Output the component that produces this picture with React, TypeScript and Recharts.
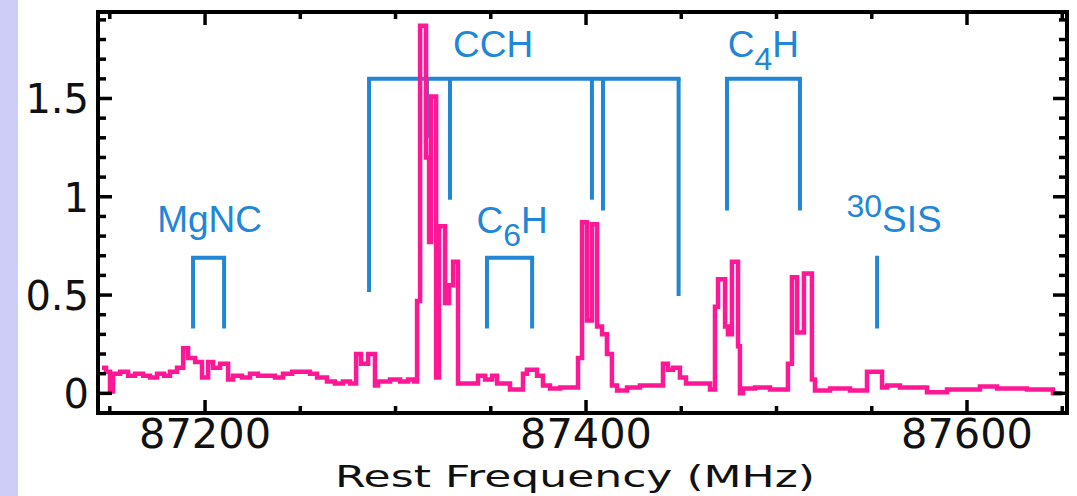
import React from 'react';
import { LineChart, Line, XAxis, YAxis, ReferenceLine, ReferenceDot } from 'recharts';

// spectrum: [rest frequency (MHz), intensity]
const spectrum: [number, number][] = [
  [87145.9, 0.13], [87148.0, 0.11], [87150.1, 0.01], [87151.7, 0.10], [87155.4, 0.11],
  [87159.6, 0.09], [87163.3, 0.10], [87167.5, 0.09], [87171.1, 0.08], [87174.8, 0.10],
  [87178.5, 0.09], [87181.6, 0.11], [87185.3, 0.13], [87188.5, 0.23], [87191.1, 0.18],
  [87194.8, 0.16], [87198.4, 0.08], [87201.6, 0.16], [87204.2, 0.13], [87207.9, 0.15],
  [87212.1, 0.07], [87214.7, 0.09], [87219.4, 0.08], [87223.6, 0.10], [87227.8, 0.09],
  [87232.0, 0.09], [87236.7, 0.08], [87240.9, 0.10], [87245.7, 0.11], [87249.9, 0.11],
  [87255.1, 0.10], [87258.8, 0.08], [87264.0, 0.06], [87268.2, 0.05], [87272.4, 0.06],
  [87276.1, 0.05], [87279.3, 0.20], [87281.9, 0.15], [87285.6, 0.20], [87289.2, 0.04],
  [87290.8, 0.06], [87297.1, 0.07], [87302.4, 0.06], [87306.6, 0.07], [87309.7, 0.06],
  [87311.3, 0.47], [87312.9, 1.87], [87316.0, 1.20], [87317.6, 0.77], [87318.6, 1.51],
  [87321.3, 0.08], [87322.8, 0.85], [87326.0, 0.46], [87328.1, 0.55], [87330.2, 0.67],
  [87332.8, 0.05], [87343.3, 0.09], [87347.0, 0.07], [87350.7, 0.09], [87353.3, 0.05],
  [87360.1, 0.02], [87366.9, 0.10], [87369.0, 0.12], [87374.3, 0.09], [87377.4, 0.04],
  [87381.1, 0.025], [87386.4, 0.03], [87395.8, 0.18], [87397.9, 0.87], [87400.5, 0.37],
  [87403.1, 0.86], [87405.8, 0.34], [87408.4, 0.30], [87411.0, 0.20], [87413.6, 0.04],
  [87416.3, 0.015], [87421.5, 0.03], [87428.3, 0.04], [87440.4, 0.15], [87443.0, 0.12],
  [87445.7, 0.13], [87449.3, 0.08], [87452.5, 0.05], [87459.8, 0.05], [87465.1, 0.02],
  [87467.7, 0.44], [87469.3, 0.58], [87473.0, 0.34], [87474.5, 0.30], [87476.6, 0.67],
  [87479.8, 0.24], [87480.8, 0.0], [87482.4, 0.025], [87488.7, 0.03], [87496.6, 0.02],
  [87506.0, 0.15], [87508.1, 0.59], [87510.8, 0.31], [87514.4, 0.61], [87518.6, 0.07],
  [87520.2, 0.015], [87528.1, 0.025], [87538.6, 0.015], [87547.5, 0.11], [87555.4, 0.03],
  [87558.0, 0.04], [87564.8, 0.03], [87579.0, 0.005], [87589.5, 0.02], [87606.8, 0.035],
  [87615.8, 0.025], [87631.5, 0.02], [87645.1, 0.0], [87649.9, 0.0],
];

const xTicks = [87150, 87200, 87250, 87300, 87350, 87400, 87450, 87500, 87550, 87600, 87650];
const yTicks = [0, 0.1, 0.2, 0.3, 0.4, 0.5, 0.6, 0.7, 0.8, 0.9, 1, 1.1, 1.2, 1.3, 1.4, 1.5, 1.6, 1.7, 1.8, 1.9];

// line identifications: bar frequencies, top of the bracket, lower end of each bar
const brackets = [
  { freqs: [87193.7, 87210.0], top: 0.69, ends: [0.33, 0.33] },
  { freqs: [87348.0, 87371.7], top: 0.69, ends: [0.33, 0.33] },
  { freqs: [87286.1, 87316.5, 87328.6, 87403.1, 87408.9, 87448.6], top: 1.6, ends: [0.515, 1.3, 0.985, 0.985, 0.93, 0.495] },
  { freqs: [87474.0, 87512.3], top: 1.6, ends: [0.93, 0.93] },
  { freqs: [87552.8], top: 0.7, ends: [0.33] },
];

// molecule labels: text pieces, 1 = subscript, -1 = superscript
const labels = [
  { f: 87202.4, t: 0.821, parts: [['MgNC', 0]] },
  { f: 87351.2, t: 1.709, parts: [['CCH', 0]] },
  { f: 87361.2, t: 0.816, parts: [['C', 0], ['6', 1], ['H', 0]] },
  { f: 87493.1, t: 1.709, parts: [['C', 0], ['4', 1], ['H', 0]] },
  { f: 87561.7, t: 0.821, parts: [['30', -1], ['SIS', 0]] },
];

const data = spectrum.map(([f, t]) => ({ f, t }));

const PINK = '#ff1796';
const BLUE = '#2186d6';
const tickFont = { fontFamily: 'DejaVu Sans', fontSize: 40, fill: '#111' };

const isMajorX = (v: number) => v % 200 === 0;
const isMajorY = (v: number) => Math.abs(v * 2 - Math.round(v * 2)) < 1e-6;

const BottomTick = ({ x, y, payload }: any) => {
  const major = isMajorX(payload.value);
  return (
    <g>
      <line x1={x} x2={x} y1={y} y2={y - (major ? 13 : 7)} stroke="#000" strokeWidth={3.5} />
      {major && <text x={x} y={y + 35} textAnchor="middle" textLength={132} lengthAdjust="spacingAndGlyphs" {...tickFont}>{payload.value}</text>}
    </g>
  );
};

const TopTick = ({ x, y, payload }: any) => {
  const major = isMajorX(payload.value);
  return <line x1={x} x2={x} y1={y} y2={y + (major ? 13 : 7)} stroke="#000" strokeWidth={3.5} />;
};

const LeftTick = ({ x, y, payload }: any) => {
  const major = isMajorY(payload.value);
  return (
    <g>
      <line x1={x} x2={x + (major ? 14 : 8)} y1={y} y2={y} stroke="#000" strokeWidth={3.5} />
      {major && <text x={x - 9} y={y + 15} textAnchor="end" {...tickFont}>{String(payload.value)}</text>}
    </g>
  );
};

const RightTick = ({ x, y, payload }: any) => {
  const major = isMajorY(payload.value);
  return <line x1={x} x2={x - (major ? 14 : 8)} y1={y} y2={y} stroke="#000" strokeWidth={3.5} />;
};

const molLabel = (parts: any[]) => (props: any) => {
  const { x, y } = props.viewBox;
  let shift = 0;
  return (
    <text x={x} y={y} textAnchor="middle" fontFamily="Liberation Sans" fontSize={37} fill={BLUE}>
      {parts.map(([txt, kind]: [string, number], i: number) => {
        const target = kind === 1 ? 13 : kind === -1 ? -15 : 0;
        const dy = target - shift;
        shift = target;
        return (
          <tspan key={i} dy={dy} fontSize={kind === 0 ? 37 : 32}>{txt}</tspan>
        );
      })}
    </text>
  );
};

const AxisTitle = () => (
  <text x={335} y={487} textLength={480} lengthAdjust="spacingAndGlyphs"
    fontFamily="DejaVu Sans" fontSize={31} fill="#111">
    Rest Frequency (MHz)
  </text>
);

export default function App() {
  const axisLine = { stroke: '#000', strokeWidth: 4, strokeLinecap: 'square' as const };
  return (
    <div style={{ position: 'absolute', left: 0, top: 0, width: 1077, height: 496, background: '#fff' }}>
      <div style={{ position: 'absolute', left: 0, top: 0, width: 18, height: 496, background: '#cdcdf8' }} />
      <LineChart width={1077} height={496} data={data}
        margin={{ top: 11, right: 9, bottom: 82, left: 97 }}
        style={{ position: 'absolute', left: 0, top: 0 }}>
        <XAxis xAxisId="bottom" dataKey="f" type="number" domain={[87143.8, 87652.5]} allowDataOverflow
          ticks={xTicks} height={1} tickSize={0} tickMargin={0} interval={0}
          axisLine={axisLine} tickLine={false} tick={<BottomTick />} label={<AxisTitle />} />
        <XAxis xAxisId="top" orientation="top" dataKey="f" type="number" domain={[87143.8, 87652.5]} allowDataOverflow
          ticks={xTicks} height={1} tickSize={0} tickMargin={0} interval={0}
          axisLine={axisLine} tickLine={false} tick={<TopTick />} />
        <YAxis yAxisId="left" type="number" domain={[-0.1, 1.94]} allowDataOverflow
          ticks={yTicks} width={1} tickSize={0} tickMargin={0} interval={0}
          axisLine={axisLine} tickLine={false} tick={<LeftTick />} />
        <YAxis yAxisId="right" orientation="right" type="number" domain={[-0.1, 1.94]} allowDataOverflow
          ticks={yTicks} width={1} tickSize={0} tickMargin={0} interval={0}
          axisLine={axisLine} tickLine={false} tick={<RightTick />} />

        {brackets.map((b, i) => (
          <React.Fragment key={`b${i}`}>
            {b.freqs.length > 1 && (
              <ReferenceLine xAxisId="bottom" yAxisId="left" stroke={BLUE} strokeWidth={4} strokeLinecap="square"
                segment={[{ x: b.freqs[0], y: b.top }, { x: b.freqs[b.freqs.length - 1], y: b.top }]} />
            )}
            {b.freqs.map((f, j) => (
              <ReferenceLine key={`v${i}-${j}`} xAxisId="bottom" yAxisId="left" stroke={BLUE} strokeWidth={4}
                segment={[{ x: f, y: b.top }, { x: f, y: b.ends[j] }]} />
            ))}
          </React.Fragment>
        ))}

        {labels.map((l, i) => (
          <ReferenceDot key={`l${i}`} xAxisId="bottom" yAxisId="left" x={l.f} y={l.t} r={0}
            fill="none" stroke="none" label={molLabel(l.parts)} />
        ))}

        <Line xAxisId="bottom" yAxisId="left" type="stepAfter" dataKey="t" stroke={PINK} strokeWidth={4.5}
          dot={false} activeDot={false} isAnimationActive={false} />
      </LineChart>
    </div>
  );
}
